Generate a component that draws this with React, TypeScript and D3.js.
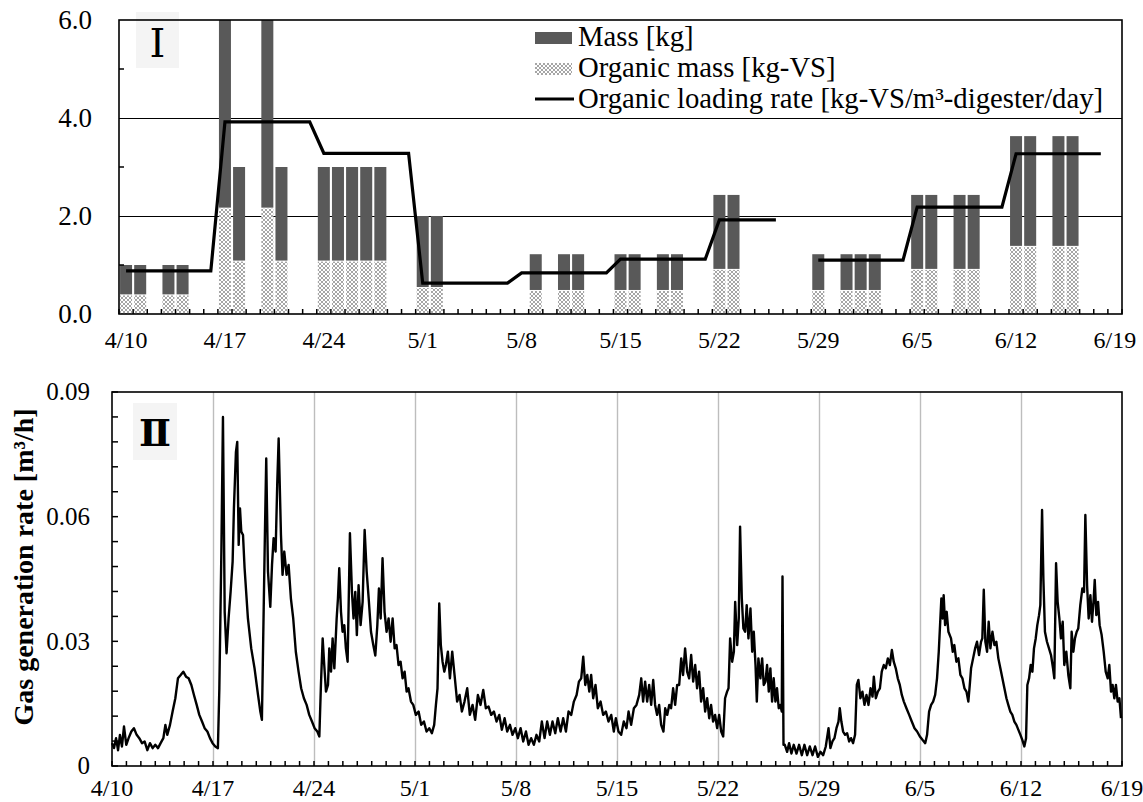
import React from "react";
import * as d3 from "d3";

// Observation window (daily categories 4/10 … 6/19)
const START = new Date(2019, 3, 10);
const END = new Date(2019, 5, 19);

const weekLabels = ["4/10", "4/17", "4/24", "5/1", "5/8", "5/15", "5/22", "5/29", "6/5", "6/12", "6/19"];

// Feeding events: date, total mass [kg], organic mass [kg-VS]
const feedDates = [
  "4/10", "4/11", "4/13", "4/14", "4/17", "4/18", "4/20", "4/21",
  "4/24", "4/25", "4/26", "4/27", "4/28", "5/1", "5/2",
  "5/9", "5/11", "5/12", "5/15", "5/16", "5/18", "5/19", "5/22", "5/23",
  "5/29", "5/31", "6/1", "6/2", "6/5", "6/6", "6/8", "6/9",
  "6/12", "6/13", "6/15", "6/16",
];
const feedMass = [
  1.0, 1.0, 1.0, 1.0, 6.0, 3.0, 6.0, 3.0,
  3.0, 3.0, 3.0, 3.0, 3.0, 2.0, 2.0,
  1.22, 1.22, 1.22, 1.22, 1.22, 1.22, 1.22, 2.43, 2.43,
  1.22, 1.22, 1.22, 1.22, 2.43, 2.43, 2.43, 2.43,
  3.63, 3.63, 3.63, 3.63,
];
const feedOrganic = [
  0.38, 0.38, 0.38, 0.38, 2.15, 1.07, 2.15, 1.07,
  1.07, 1.07, 1.07, 1.07, 1.07, 0.53, 0.53,
  0.47, 0.47, 0.47, 0.47, 0.47, 0.47, 0.47, 0.9, 0.9,
  0.47, 0.47, 0.47, 0.47, 0.9, 0.9, 0.9, 0.9,
  1.37, 1.37, 1.37, 1.37,
];

// Daily organic loading rate [kg-VS/m³-digester/day], one value per day from 4/10
const loadingRate: (number | null)[] = [
  0.88, 0.88, 0.88, 0.88, 0.88, 0.88, 0.88,
  3.92, 3.92, 3.92, 3.92, 3.92, 3.92, 3.92,
  3.28, 3.28, 3.28, 3.28, 3.28, 3.28, 3.28,
  0.63, 0.63, 0.63, 0.63, 0.63, 0.63, 0.63,
  0.84, 0.84, 0.84, 0.84, 0.84, 0.84, 0.84,
  1.12, 1.12, 1.12, 1.12, 1.12, 1.12, 1.12,
  1.92, 1.92, 1.92, 1.92, 1.92, null, null,
  1.10, 1.10, 1.10, 1.10, 1.10, 1.10, 1.10,
  2.18, 2.18, 2.18, 2.18, 2.18, 2.18, 2.18,
  3.27, 3.27, 3.27, 3.27, 3.27, 3.27, 3.27,
  null,
];

const massTicks = [0, 2, 4, 6];
const gasTicks = [0, 0.03, 0.06, 0.09];

// Gas generation rate [m³/h]; [days since 4/10 00:00, rate]
const gasSeries: [number, number][] = [
  [0.00, 0.0055], [0.14, 0.0043], [0.28, 0.0067], [0.42, 0.0038], [0.55, 0.0075], [0.69, 0.0047], [0.83, 0.0095], [0.99, 0.0051],
  [1.15, 0.0067], [1.34, 0.0083], [1.52, 0.0091], [1.71, 0.0075], [1.89, 0.0067], [2.08, 0.0055], [2.26, 0.0059], [2.45, 0.0038],
  [2.63, 0.0055], [2.82, 0.0043], [3.00, 0.0051], [3.19, 0.0043], [3.37, 0.0055], [3.56, 0.0067], [3.70, 0.0099], [3.83, 0.0075],
  [4.02, 0.0099], [4.20, 0.0131], [4.39, 0.0163], [4.57, 0.0211], [4.76, 0.0219], [4.94, 0.0227], [5.13, 0.0215], [5.31, 0.0211],
  [5.50, 0.0195], [5.68, 0.0171], [5.87, 0.0147], [6.05, 0.0123], [6.24, 0.0107], [6.42, 0.0091], [6.61, 0.0083], [6.79, 0.0067],
  [6.97, 0.0055], [7.16, 0.0047], [7.34, 0.0043], [7.44, 0.0187], [7.58, 0.0516], [7.69, 0.0840], [7.81, 0.0371], [7.94, 0.0271],
  [8.08, 0.0355], [8.22, 0.0419], [8.36, 0.0492], [8.45, 0.0620], [8.59, 0.0756], [8.68, 0.0780], [8.78, 0.0532], [8.87, 0.0620],
  [8.96, 0.0564], [9.08, 0.0556], [9.19, 0.0476], [9.42, 0.0355], [9.65, 0.0283], [9.88, 0.0235], [10.12, 0.0171], [10.28, 0.0131],
  [10.39, 0.0111], [10.48, 0.0307], [10.60, 0.0564], [10.69, 0.0740], [10.81, 0.0468], [10.97, 0.0383], [11.09, 0.0484], [11.20, 0.0548],
  [11.34, 0.0516], [11.45, 0.0676], [11.55, 0.0788], [11.71, 0.0556], [11.82, 0.0460], [11.94, 0.0516], [12.10, 0.0460], [12.24, 0.0484],
  [12.40, 0.0403], [12.56, 0.0355], [12.74, 0.0275], [12.93, 0.0227], [13.11, 0.0187], [13.30, 0.0163], [13.49, 0.0147], [13.67, 0.0123],
  [13.86, 0.0107], [14.04, 0.0091], [14.23, 0.0083], [14.37, 0.0071], [14.48, 0.0195], [14.60, 0.0307], [14.71, 0.0243], [14.83, 0.0179],
  [14.97, 0.0195], [15.06, 0.0283], [15.18, 0.0227], [15.29, 0.0307], [15.41, 0.0235], [15.57, 0.0355], [15.66, 0.0403], [15.75, 0.0476],
  [15.87, 0.0371], [15.98, 0.0323], [16.10, 0.0339], [16.21, 0.0283], [16.33, 0.0251], [16.49, 0.0560], [16.63, 0.0419], [16.74, 0.0355],
  [16.86, 0.0419], [16.97, 0.0315], [17.09, 0.0435], [17.23, 0.0339], [17.37, 0.0395], [17.51, 0.0568], [17.65, 0.0468], [17.79, 0.0403],
  [17.95, 0.0323], [18.11, 0.0291], [18.25, 0.0266], [18.39, 0.0339], [18.50, 0.0427], [18.62, 0.0355], [18.75, 0.0500], [18.89, 0.0371],
  [19.03, 0.0323], [19.17, 0.0355], [19.31, 0.0299], [19.45, 0.0355], [19.59, 0.0283], [19.72, 0.0291], [19.86, 0.0243], [20.00, 0.0251],
  [20.14, 0.0211], [20.28, 0.0227], [20.42, 0.0179], [20.55, 0.0187], [20.72, 0.0155], [20.88, 0.0147], [21.06, 0.0123], [21.25, 0.0131],
  [21.43, 0.0099], [21.62, 0.0107], [21.80, 0.0083], [21.99, 0.0091], [22.17, 0.0079], [22.33, 0.0099], [22.45, 0.0147], [22.56, 0.0187],
  [22.68, 0.0391], [22.79, 0.0291], [22.91, 0.0251], [23.03, 0.0227], [23.14, 0.0243], [23.28, 0.0275], [23.42, 0.0211], [23.58, 0.0275],
  [23.74, 0.0219], [23.92, 0.0155], [24.09, 0.0171], [24.25, 0.0131], [24.43, 0.0155], [24.62, 0.0187], [24.80, 0.0123], [24.99, 0.0147],
  [25.17, 0.0111], [25.36, 0.0171], [25.54, 0.0147], [25.73, 0.0183], [25.91, 0.0139], [26.10, 0.0143], [26.28, 0.0123], [26.47, 0.0131],
  [26.65, 0.0107], [26.84, 0.0123], [27.02, 0.0087], [27.21, 0.0115], [27.39, 0.0083], [27.58, 0.0099], [27.76, 0.0075], [27.95, 0.0091],
  [28.13, 0.0067], [28.32, 0.0091], [28.50, 0.0059], [28.69, 0.0083], [28.87, 0.0051], [29.05, 0.0067], [29.24, 0.0051], [29.42, 0.0075],
  [29.61, 0.0059], [29.79, 0.0107], [29.98, 0.0067], [30.16, 0.0107], [30.35, 0.0075], [30.53, 0.0107], [30.72, 0.0079], [30.90, 0.0115],
  [31.09, 0.0083], [31.27, 0.0115], [31.46, 0.0083], [31.64, 0.0131], [31.83, 0.0123], [32.01, 0.0155], [32.20, 0.0171], [32.36, 0.0203],
  [32.52, 0.0211], [32.66, 0.0263], [32.80, 0.0195], [32.94, 0.0219], [33.08, 0.0179], [33.21, 0.0219], [33.35, 0.0163], [33.51, 0.0195],
  [33.67, 0.0139], [33.86, 0.0155], [34.04, 0.0123], [34.23, 0.0131], [34.41, 0.0107], [34.60, 0.0123], [34.78, 0.0083], [34.92, 0.0115],
  [35.10, 0.0083], [35.29, 0.0075], [35.47, 0.0107], [35.66, 0.0091], [35.80, 0.0131], [35.98, 0.0099], [36.17, 0.0139], [36.35, 0.0147],
  [36.54, 0.0171], [36.68, 0.0211], [36.81, 0.0155], [36.95, 0.0203], [37.09, 0.0155], [37.23, 0.0195], [37.37, 0.0147], [37.51, 0.0207],
  [37.64, 0.0147], [37.78, 0.0123], [37.92, 0.0147], [38.06, 0.0099], [38.22, 0.0083], [38.34, 0.0139], [38.48, 0.0123], [38.62, 0.0147],
  [38.75, 0.0139], [38.89, 0.0187], [39.03, 0.0147], [39.17, 0.0195], [39.31, 0.0195], [39.45, 0.0259], [39.58, 0.0219], [39.72, 0.0283],
  [39.86, 0.0227], [40.00, 0.0211], [40.14, 0.0267], [40.28, 0.0203], [40.42, 0.0243], [40.55, 0.0187], [40.69, 0.0227], [40.83, 0.0155],
  [40.97, 0.0187], [41.11, 0.0131], [41.25, 0.0163], [41.39, 0.0115], [41.52, 0.0147], [41.66, 0.0107], [41.80, 0.0123], [41.94, 0.0091],
  [42.08, 0.0123], [42.22, 0.0083], [42.36, 0.0071], [42.49, 0.0163], [42.63, 0.0179], [42.73, 0.0187], [42.84, 0.0307], [42.98, 0.0251],
  [43.10, 0.0275], [43.19, 0.0395], [43.33, 0.0291], [43.44, 0.0355], [43.53, 0.0576], [43.65, 0.0403], [43.76, 0.0331], [43.88, 0.0323],
  [43.99, 0.0387], [44.11, 0.0307], [44.25, 0.0379], [44.37, 0.0275], [44.48, 0.0323], [44.60, 0.0243], [44.69, 0.0155], [44.80, 0.0259],
  [44.94, 0.0211], [45.06, 0.0259], [45.17, 0.0195], [45.29, 0.0203], [45.40, 0.0243], [45.52, 0.0179], [45.63, 0.0235], [45.75, 0.0155],
  [45.86, 0.0211], [45.98, 0.0155], [46.09, 0.0187], [46.21, 0.0139], [46.32, 0.0147], [46.42, 0.0131], [46.47, 0.0456], [46.54, 0.0051],
  [46.63, 0.0051], [46.79, 0.0034], [46.93, 0.0055], [47.09, 0.0030], [47.25, 0.0051], [47.44, 0.0030], [47.62, 0.0051], [47.81, 0.0026],
  [47.99, 0.0051], [48.18, 0.0026], [48.36, 0.0047], [48.55, 0.0026], [48.73, 0.0047], [48.92, 0.0022], [49.10, 0.0034], [49.29, 0.0026],
  [49.47, 0.0047], [49.66, 0.0091], [49.79, 0.0043], [49.93, 0.0059], [50.07, 0.0067], [50.21, 0.0091], [50.35, 0.0107], [50.44, 0.0139],
  [50.55, 0.0107], [50.67, 0.0083], [50.81, 0.0075], [50.95, 0.0079], [51.09, 0.0059], [51.22, 0.0067], [51.36, 0.0055], [51.50, 0.0075],
  [51.62, 0.0195], [51.73, 0.0207], [51.87, 0.0163], [52.01, 0.0179], [52.15, 0.0147], [52.29, 0.0171], [52.43, 0.0147], [52.57, 0.0187],
  [52.71, 0.0167], [52.80, 0.0215], [52.94, 0.0163], [53.08, 0.0179], [53.22, 0.0187], [53.35, 0.0227], [53.49, 0.0243], [53.63, 0.0235],
  [53.77, 0.0259], [53.91, 0.0243], [54.05, 0.0279], [54.18, 0.0251], [54.32, 0.0235], [54.46, 0.0211], [54.60, 0.0195], [54.74, 0.0171],
  [54.88, 0.0155], [55.06, 0.0139], [55.25, 0.0123], [55.43, 0.0107], [55.62, 0.0091], [55.80, 0.0083], [55.99, 0.0071], [56.17, 0.0063],
  [56.36, 0.0055], [56.49, 0.0075], [56.63, 0.0131], [56.77, 0.0147], [56.91, 0.0155], [57.05, 0.0171], [57.18, 0.0211], [57.30, 0.0275],
  [57.39, 0.0339], [57.48, 0.0403], [57.57, 0.0355], [57.64, 0.0411], [57.74, 0.0339], [57.85, 0.0371], [57.97, 0.0323], [58.15, 0.0307],
  [58.27, 0.0275], [58.38, 0.0291], [58.52, 0.0251], [58.66, 0.0259], [58.80, 0.0219], [58.94, 0.0211], [59.08, 0.0187], [59.22, 0.0179],
  [59.35, 0.0155], [59.45, 0.0195], [59.54, 0.0235], [59.68, 0.0259], [59.82, 0.0283], [59.95, 0.0299], [60.09, 0.0267], [60.23, 0.0299],
  [60.32, 0.0307], [60.42, 0.0424], [60.53, 0.0299], [60.65, 0.0275], [60.76, 0.0347], [60.88, 0.0283], [61.02, 0.0323], [61.16, 0.0291],
  [61.29, 0.0299], [61.43, 0.0259], [61.57, 0.0235], [61.71, 0.0211], [61.85, 0.0187], [61.99, 0.0163], [62.12, 0.0147], [62.26, 0.0131],
  [62.40, 0.0123], [62.54, 0.0107], [62.68, 0.0099], [62.82, 0.0087], [62.96, 0.0075], [63.09, 0.0063], [63.23, 0.0047], [63.35, 0.0067],
  [63.44, 0.0195], [63.56, 0.0211], [63.67, 0.0243], [63.79, 0.0227], [63.90, 0.0283], [64.02, 0.0307], [64.13, 0.0339], [64.25, 0.0363],
  [64.34, 0.0387], [64.46, 0.0616], [64.55, 0.0452], [64.66, 0.0323], [64.80, 0.0299], [64.94, 0.0283], [65.08, 0.0267], [65.22, 0.0235],
  [65.31, 0.0211], [65.43, 0.0488], [65.54, 0.0395], [65.66, 0.0355], [65.77, 0.0307], [65.89, 0.0347], [66.00, 0.0243], [66.14, 0.0275],
  [66.28, 0.0219], [66.42, 0.0187], [66.51, 0.0323], [66.63, 0.0275], [66.74, 0.0307], [66.86, 0.0323], [66.97, 0.0331], [67.11, 0.0387],
  [67.25, 0.0427], [67.37, 0.0419], [67.46, 0.0604], [67.58, 0.0435], [67.69, 0.0355], [67.81, 0.0411], [67.92, 0.0347], [68.04, 0.0403],
  [68.11, 0.0448], [68.22, 0.0363], [68.34, 0.0395], [68.45, 0.0339], [68.59, 0.0315], [68.73, 0.0275], [68.87, 0.0227], [69.01, 0.0211],
  [69.12, 0.0243], [69.24, 0.0179], [69.35, 0.0195], [69.47, 0.0163], [69.58, 0.0195], [69.70, 0.0155], [69.82, 0.0163], [69.93, 0.0115],
];

const SERIF = "'Liberation Serif', 'Times New Roman', serif";
const ROMAN = "'DejaVu Serif', serif";
const DAY_MS = 864e5;

export default function App() {
  const W = 1143;
  const H = 802;
  const fmt = d3.timeFormat("%-m/%-d");
  const days = d3.timeDay.range(START, d3.timeDay.offset(END, 1));
  const dayKeys = days.map(fmt);

  // ---------- Panel I: feeding ----------
  const p1 = { left: 119, right: 1122, top: 20, bottom: 314 };
  const xBand = d3
    .scaleBand<string>()
    .domain(dayKeys)
    .range([p1.left, p1.right])
    .paddingInner(0.15)
    .paddingOuter(0.075);
  const step = xBand.step();
  const bw = xBand.bandwidth();
  const yMass = d3.scaleLinear().domain([0, 6]).range([p1.bottom, p1.top]);
  const center = (k: string) => (xBand(k) as number) + bw / 2;

  const rateLine = d3
    .line<number | null>()
    .defined((d) => d !== null)
    .x((_, i) => center(dayKeys[i]))
    .y((d) => yMass(d as number));

  // ---------- Panel II: gas generation ----------
  const p2 = { left: 112, right: 1122, top: 392, bottom: 766 };
  const xTime = d3.scaleTime().domain([START, END]).range([p2.left, p2.right]);
  const yGas = d3.scaleLinear().domain([0, 0.09]).range([p2.bottom, p2.top]);
  const gasLine = d3
    .line<[number, number]>()
    .x((d) => xTime(new Date(START.getTime() + d[0] * DAY_MS)))
    .y((d) => yGas(d[1]));

  const weekDays = days.filter((_, i) => i % 7 === 0);
  const gasMinor = d3.range(0, 16).map((i) => i * 0.006);
  const txt = { fontFamily: SERIF };

  return (
    <svg
      width={W}
      height={H}
      style={{ position: "absolute", left: 0, top: 0, background: "#fff", fontFamily: SERIF }}
    >
      <defs>
        <pattern id="vsHatch" width="4" height="4" patternUnits="userSpaceOnUse">
          <rect width="4" height="4" fill="#fff" />
          <path d="M0,0 L4,4 M4,0 L0,4" stroke="#9c9c9c" strokeWidth="0.9" />
        </pattern>
      </defs>
      <rect width={W} height={H} fill="#fff" />

      {/* Panel I */}
      <g>
        {[2, 4].map((v) => (
          <line key={v} x1={p1.left} x2={p1.right} y1={Math.round(yMass(v)) + 0.5} y2={Math.round(yMass(v)) + 0.5} stroke="#000" strokeWidth={1} />
        ))}
        {feedDates.map((d, i) => (
          <g key={d}>
            <rect
              x={xBand(d)}
              y={yMass(feedOrganic[i])}
              width={bw}
              height={yMass(0) - yMass(feedOrganic[i])}
              fill="url(#vsHatch)"
            />
            <rect
              x={xBand(d)}
              y={yMass(feedMass[i])}
              width={bw}
              height={yMass(feedOrganic[i]) - yMass(feedMass[i]) - 1}
              fill="#595959"
            />
          </g>
        ))}
        <path d={rateLine(loadingRate) || ""} fill="none" stroke="#000" strokeWidth={3.2} strokeLinejoin="miter" />

        {/* category ticks */}
        {d3.range(dayKeys.length + 1).map((i) => (
          <line
            key={i}
            x1={p1.left + i * step}
            x2={p1.left + i * step}
            y1={p1.bottom}
            y2={p1.bottom - 5}
            stroke="#000"
            strokeWidth={1.5}
          />
        ))}
        {[1, 3, 5].map((v) => (
          <line key={v} x1={p1.left} x2={p1.left + 5} y1={yMass(v)} y2={yMass(v)} stroke="#000" strokeWidth={1.5} />
        ))}

        {/* label box */}
        <rect x={136} y={12} width={43} height={56} fill="#f4f4f4" />
        <rect x={p1.left} y={p1.top} width={p1.right - p1.left} height={p1.bottom - p1.top} fill="none" stroke="#000" strokeWidth={1.6} />
        <text x={157.5} y={57} textAnchor="middle" style={{ fontFamily: ROMAN }} fontSize={40}>Ⅰ</text>

        {massTicks.map((v) => (
          <text key={v} x={92} y={yMass(v)} dy="0.33em" textAnchor="end" fontSize={27} style={txt}>
            {v.toFixed(1)}
          </text>
        ))}
        {weekLabels.map((lab) => (
          <text key={lab} x={center(lab)} y={348} textAnchor="middle" fontSize={24} style={txt}>
            {lab}
          </text>
        ))}

        {/* legend */}
        <rect x={535} y={32} width={37} height={12} fill="#595959" />
        <rect x={535} y={63} width={37} height={12} fill="url(#vsHatch)" />
        <line x1={535} x2={574} y1={99} y2={99} stroke="#000" strokeWidth={3.2} />
        <text x={578} y={46} fontSize={28.7} style={txt}>Mass [kg]</text>
        <text x={578} y={77} fontSize={28.7} style={txt}>Organic mass [kg-VS]</text>
        <text x={578} y={108} fontSize={28.7} style={txt}>Organic loading rate [kg-VS/m³-digester/day]</text>
      </g>

      {/* Panel II */}
      <g>
        {weekDays.slice(1, -1).map((d) => (
          <line key={+d} x1={Math.round(xTime(d)) + 0.5} x2={Math.round(xTime(d)) + 0.5} y1={p2.top} y2={p2.bottom} stroke="#bdbdbd" strokeWidth={1.4} />
        ))}
        <rect x={133} y={403} width={44} height={57} fill="#f4f4f4" />
        <text x={155} y={446} textAnchor="middle" style={{ fontFamily: ROMAN }} fontWeight="bold" fontSize={38}>Ⅱ</text>

        <path d={gasLine(gasSeries) || ""} fill="none" stroke="#000" strokeWidth={2.4} strokeLinejoin="round" />

        {days.map((d) => (
          <line key={+d} x1={xTime(d)} x2={xTime(d)} y1={p2.bottom} y2={p2.bottom - 5} stroke="#000" strokeWidth={1.5} />
        ))}
        {gasMinor.map((v) => (
          <line key={v} x1={p2.left} x2={p2.left + 6} y1={yGas(v)} y2={yGas(v)} stroke="#000" strokeWidth={1.5} />
        ))}
        <rect x={p2.left} y={p2.top} width={p2.right - p2.left} height={p2.bottom - p2.top} fill="none" stroke="#000" strokeWidth={1.6} />

        {gasTicks.map((v) => (
          <text key={v} x={90} y={yGas(v)} dy="0.33em" textAnchor="end" fontSize={25} style={txt}>
            {v === 0 ? "0" : v.toFixed(2)}
          </text>
        ))}
        {weekDays.map((d) => (
          <text key={+d} x={xTime(d)} y={796} textAnchor="middle" fontSize={24} style={txt}>
            {fmt(d)}
          </text>
        ))}
        <text
          transform={`translate(33,${(p2.top + p2.bottom) / 2 - 12}) rotate(-90)`}
          textAnchor="middle"
          fontWeight="bold"
          fontSize={28}
          style={txt}
        >
          Gas generation rate [m³/h]
        </text>
      </g>
    </svg>
  );
}
